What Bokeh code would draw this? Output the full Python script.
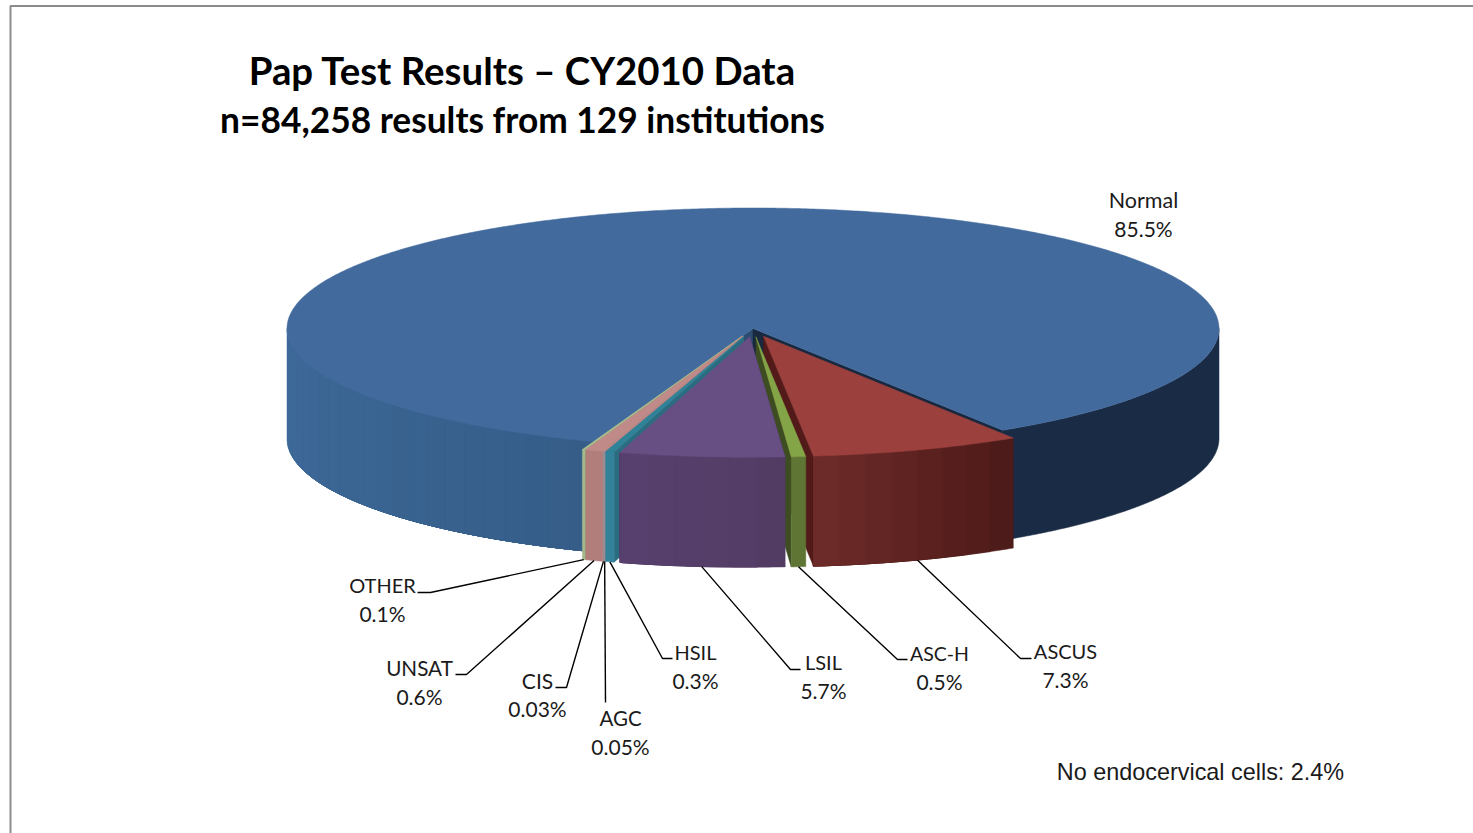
import math
from bokeh.plotting import figure
from bokeh.models import ColumnDataSource, Range1d
from bokeh.core.properties import value
from bokeh.embed import file_html
from bokeh.resources import INLINE

# --- data ---
categories = ["Normal", "ASCUS", "ASC-H", "LSIL", "HSIL", "AGC", "CIS", "UNSAT", "OTHER"]
percents = [85.5, 7.3, 0.5, 5.7, 0.3, 0.05, 0.03, 0.6, 0.1]
title_lines = ["Pap Test Results \u2013 CY2010 Data", "n=84,258 results from 129 institutions"]
note = "No endocervical cells: 2.4%"

# --- styles / layout ---
top_colors = ["#426a9d", "#9c403e", "#84a547", "#674f84", "#2f8298", "#c08a89", "#c08a89", "#c08a89", "#adc08c"]
wall_colors = ["#1a2c45", "#521b19", "#3d4d21", "#4a3660", "#2a6d80", "#a07070", "#a07070", "#a07070", "#8fa070"]
side_a = {"ASCUS": "#6e2b29", "ASC-H": "#5f7534", "LSIL": "#59406f", "HSIL": "#32829a",
          "AGC": "#9a8f96", "CIS": "#9a8f96", "UNSAT": "#b27e7c", "OTHER": "#a4b98a"}
side_b = {"ASCUS": "#4b1a18", "ASC-H": "#5f7534", "LSIL": "#523c63", "HSIL": "#32829a",
          "AGC": "#9a8f96", "CIS": "#9a8f96", "UNSAT": "#b27e7c", "OTHER": "#a4b98a"}
label_x = [1143, 1065, 939, 823, 695, 620, 537, 419, 382]
label_y = [199.5, 650.5, 652.5, 661.5, 651.5, 717.5, 679.5, 667.5, 584.5]
name_sizes = ["21.5px", "20px", "19.5px", "20px", "20px", "20.5px", "21px", "20.7px", "20px"]
elbow_x = [None, 1020, 897, 790, 662, 605, 566, 466, 430]
elbow_y = [None, 658, 659, 669, 658, 702, 687, 674, 592]
stub_x = [None, 1031, 907, 800, 672, None, 555, 455, 417]

CX, CY, RX, RY, DEPTH, EXPLODE = 752.5, 328.0, 466.0, 120.5, 110.0, 32.0
FIRST_CUT = 147.6  # clock angle where Normal ends


def pt(a, cx=CX, cy=CY, down=0.0):
    r = math.radians(a)
    return cx + RX * math.sin(r), cy - RY * math.cos(r) + down


def arc(a0, a1, cx=CX, cy=CY, down=0.0, step=0.5):
    n = max(2, int(abs(a1 - a0) / step) + 1)
    return [pt(a0 + (a1 - a0) * i / (n - 1), cx, cy, down) for i in range(n)]


def lerp(c0, c1, t):
    v0 = [int(c0[i:i + 2], 16) for i in (1, 3, 5)]
    v1 = [int(c1[i:i + 2], 16) for i in (1, 3, 5)]
    return "#%02x%02x%02x" % tuple(round(a + (b - a) * t) for a, b in zip(v0, v1))


polys = []  # painter's order


def add(points, color):
    polys.append(([p[0] for p in points], [p[1] for p in points], color))


def side_strips(a0, a1, cx, cy, c0, c1, step=3.0):
    # each strip runs on to the far end of the arc, the next one paints over it: no seams
    n = max(1, int(abs(a1 - a0) / step))
    for i in range(n):
        s0 = a0 + (a1 - a0) * i / n
        add(arc(s0, a1, cx, cy) + arc(a1, s0, cx, cy, DEPTH), lerp(c0, c1, (i + 0.5) / n))


total = sum(percents)
spans = [p / total * 360 for p in percents]
starts = [FIRST_CUT - spans[0]]
for s in spans:
    starts.append(starts[-1] + s)
ranges = {c: (starts[i], starts[i + 1]) for i, c in enumerate(categories)}

# Normal: back piece
n0, n1 = ranges["Normal"]
side_strips(90, FIRST_CUT, CX, CY, "#1a2c45", "#1a2c45", 60)
side_strips(270, n0 + 360, CX, CY, "#3e6a9a", "#355d88")
for a, col in ((n0, "#2c4c72"), (n1, "#17283f")):
    e = pt(a)
    add([(CX, CY), e, (e[0], e[1] + DEPTH), (CX, CY + DEPTH)], col)
add([(CX, CY)] + arc(n0, n1), top_colors[0])


def slice_center(c):
    a0, a1 = ranges[c]
    mid = math.radians((a0 + a1) / 2)
    return CX + EXPLODE * math.sin(mid), CY - EXPLODE * math.cos(mid) * RY / RX


def draw_slice(c):
    i = categories.index(c)
    a0, a1 = ranges[c]
    cx, cy = slice_center(c)
    wall_angle = a1 if a1 <= 180 else a0
    e = pt(wall_angle, cx, cy)
    add([(cx, cy), e, (e[0], e[1] + DEPTH), (cx, cy + DEPTH)], wall_colors[i])
    side_strips(a0, a1, cx, cy, side_b[c], side_a[c])
    add([(cx, cy)] + arc(a0, a1, cx, cy), top_colors[i])


for c in ["ASCUS", "ASC-H", "OTHER", "UNSAT", "CIS", "AGC", "HSIL", "LSIL"]:
    draw_slice(c)

p = figure(width=1473, height=833, output_backend="svg", toolbar_location=None,
           x_range=Range1d(0, 1473), y_range=Range1d(833, 0), min_border=0,
           outline_line_color=None, background_fill_color="white", border_fill_color="white")
p.axis.visible = False
p.grid.visible = False

# frame
p.line([10, 10, 1473], [833, 5.5, 5.5], line_color="#8c8c8c", line_width=2)

p.patches([q[0] for q in polys], [q[1] for q in polys], fill_color=[q[2] for q in polys],
          line_color=[q[2] for q in polys], line_width=0.5)

# leaders
for i, c in enumerate(categories):
    if elbow_x[i] is None:
        continue
    a0, a1 = ranges[c]
    cx, cy = slice_center(c)
    start = pt((a0 + a1) / 2, cx, cy, DEPTH)
    xs = [start[0], elbow_x[i]]
    ys = [start[1], elbow_y[i]]
    if stub_x[i] is not None:
        xs.append(stub_x[i])
        ys.append(elbow_y[i])
    p.line(xs, ys, line_color="black", line_width=1.4)

# labels
LABEL_FONT = value("Lato")
names = ColumnDataSource(dict(x=label_x, y=label_y, t=categories, s=name_sizes))
p.text("x", "y", text="t", source=names, text_font=LABEL_FONT, text_font_size="s",
       text_align="center", text_baseline="middle", text_color="#1a1a1a")
p.text(label_x, [y + 28 for y in label_y], text=[f"{v}%" for v in percents], text_font=LABEL_FONT,
       text_font_size="21px", text_align="center", text_baseline="middle", text_color="#1a1a1a")

p.text([522], [69], text=[title_lines[0]], text_font=value("Lato"), text_font_style="bold",
       text_font_size="38.4px", text_align="center", text_baseline="middle", text_color="black")
p.text([522], [119], text=[title_lines[1]], text_font=value("Lato"), text_font_style="bold",
       text_font_size="35.3px", text_align="center", text_baseline="middle", text_color="black")
p.text([1200], [771], text=[note], text_font=value("Liberation Sans"), text_font_size="23.4px",
       text_align="center", text_baseline="middle", text_color="#1a1a1a")

open("out.html", "w").write(file_html(p, INLINE))
